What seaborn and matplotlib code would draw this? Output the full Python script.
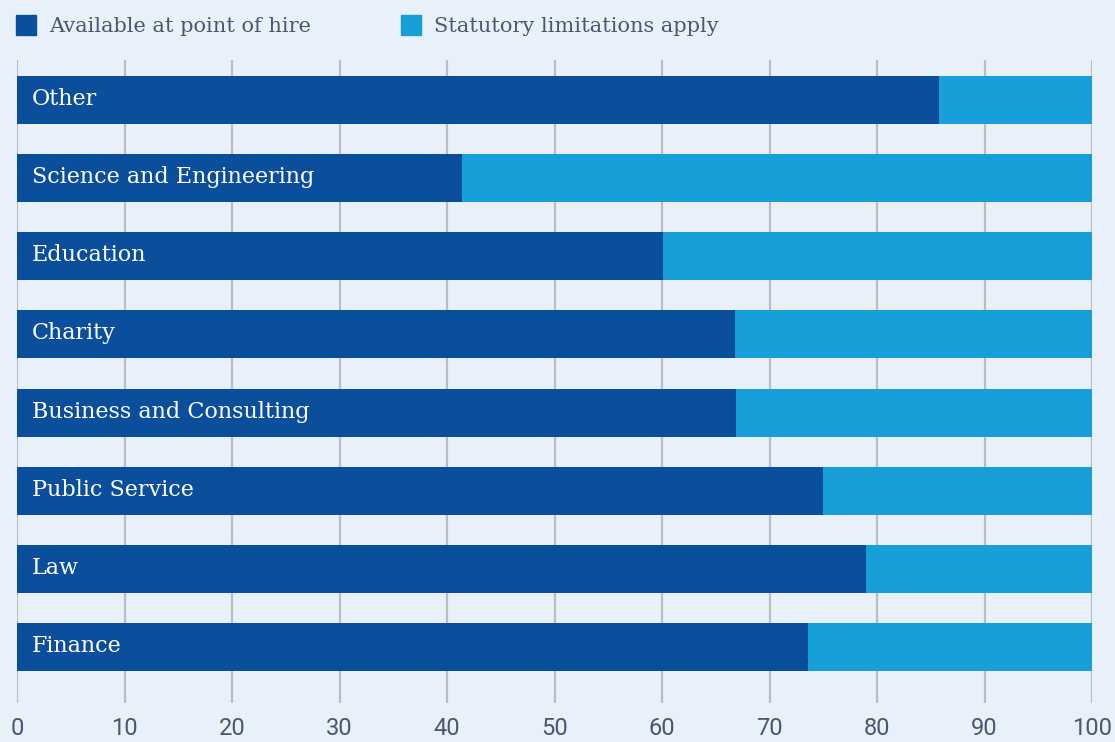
import matplotlib
matplotlib.use("Agg")
import matplotlib.pyplot as plt
import seaborn as sns
import pandas as pd
from matplotlib.lines import Line2D

categories = ["Other", "Science and Engineering", "Education", "Charity",
              "Business and Consulting", "Public Service", "Law", "Finance"]
available = [85.8, 41.4, 60.1, 66.8, 66.9, 75.0, 79.0, 73.6]
total = [100, 100, 100, 100, 100, 100, 100, 100]
series_names = ["Available at point of hire", "Statutory limitations apply"]
xticks = [0, 10, 20, 30, 40, 50, 60, 70, 80, 90, 100]

BG = "#e8f0fa"
DARK = "#0b4f9c"
LIGHT = "#179fda"
GRID = "#b7bdca"
TXT = "#4a5672"

sns.set_theme(style="white")
plt.rcParams["font.family"] = ["DejaVu Serif"]

df = pd.DataFrame({"category": categories, "available": available, "total": total})

fig = plt.figure(figsize=(11.15, 7.42), dpi=100, facecolor=BG)
ax = fig.add_axes([17/1115, 39/742, 1075/1115, 643/742])
ax.set_facecolor(BG)

sns.barplot(data=df, y="category", x="total", orient="h", color=LIGHT,
            width=0.615, saturation=1, ax=ax, zorder=2, linewidth=0)
sns.barplot(data=df, y="category", x="available", orient="h", color=DARK,
            width=0.615, saturation=1, ax=ax, zorder=3, linewidth=0)

ax.set_xlim(0, 100)
ax.set_ylim(7 + 0.717, -0.512)
ax.set_xticks(xticks)
ax.set_xticklabels([str(t) for t in xticks], fontfamily="Roboto", fontsize=17, color=TXT)
ax.tick_params(axis="x", length=0, pad=10)
ax.set_yticks([])
ax.set_xlabel("")
ax.set_ylabel("")
for s in ax.spines.values():
    s.set_visible(False)
ax.grid(axis="x", color=GRID, linewidth=1.6, zorder=1)
ax.set_axisbelow(True)

for i, c in enumerate(categories):
    ax.annotate(c, xy=(0, i), xytext=(15, 1), textcoords="offset pixels",
                ha="left", va="center", color="white", fontsize=16,
                zorder=5)

handles = [Line2D([], [], marker="s", linestyle="none", markersize=14, color=DARK),
           Line2D([], [], marker="s", linestyle="none", markersize=14, color=LIGHT)]
fig.legend(handles, series_names, loc="upper left",
           bbox_to_anchor=(3/1115, 1 - 5/742),
           ncol=2, frameon=False, fontsize=15, labelcolor=TXT,
           handletextpad=0.6, columnspacing=4.3, borderaxespad=0.2,
           handlelength=1.0)

fig.savefig("out.png", dpi=100, facecolor=BG)
